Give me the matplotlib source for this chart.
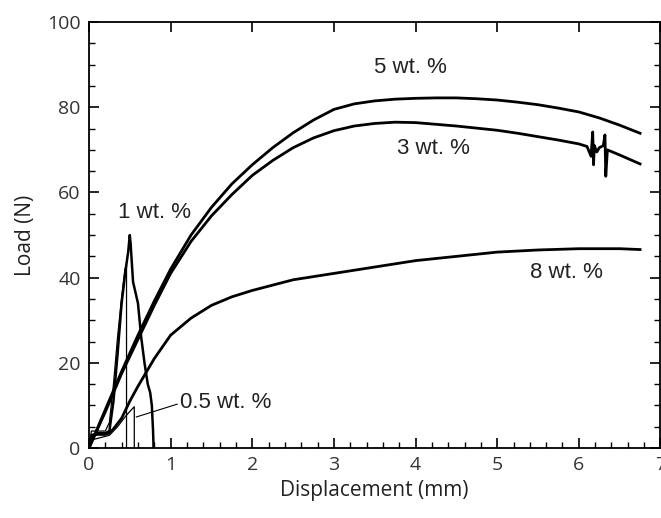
import matplotlib
matplotlib.use("Agg")
import matplotlib.pyplot as plt
from matplotlib.ticker import MultipleLocator

plt.rcParams['font.family'] = ['Open Sans', 'DejaVu Sans']

# 5 wt.%
x5 = [0, 0.2, 0.4, 0.6, 0.8, 1.0, 1.25, 1.5, 1.75, 2.0, 2.25, 2.5, 2.75, 3.0, 3.25, 3.5,
      3.75, 4.0, 4.25, 4.5, 4.75, 5.0, 5.25, 5.5, 5.75, 6.0, 6.25, 6.5, 6.75]
y5 = [0, 9, 18, 26.5, 34.5, 42, 50, 56.5, 62, 66.5, 70.5, 74, 77, 79.5, 80.8, 81.5,
      81.9, 82.1, 82.2, 82.2, 82.0, 81.7, 81.2, 80.6, 79.8, 78.9, 77.5, 75.8, 73.9]

# 3 wt.%
x3 = [0, 0.2, 0.4, 0.6, 0.8, 1.0, 1.25, 1.5, 1.75, 2.0, 2.25, 2.5, 2.75, 3.0, 3.25, 3.5,
      3.75, 4.0, 4.25, 4.5, 4.75, 5.0, 5.25, 5.5, 5.75, 6.0, 6.1, 6.15, 6.17, 6.18, 6.19,
      6.22, 6.25, 6.3, 6.32, 6.33, 6.35, 6.5, 6.75]
y3 = [0, 8.5, 17.5, 25.5, 33.5, 41, 48.5, 54.5, 59.5, 64, 67.5, 70.5, 72.8, 74.5, 75.6, 76.2,
      76.5, 76.4, 76.0, 75.6, 75.1, 74.6, 73.9, 73.1, 72.3, 71.4, 70.8, 68.5, 74.2, 66.5, 71,
      69.5, 70.5, 71, 73.5, 63.8, 70, 68.8, 66.7]

# 8 wt.%
x8 = [0, 0.05, 0.1, 0.2, 0.25, 0.3, 0.4, 0.5, 0.6, 0.8, 1.0, 1.25, 1.5, 1.75, 2.0, 2.5,
      3.0, 3.5, 4.0, 4.5, 5.0, 5.5, 6.0, 6.5, 6.75]
y8 = [0, 3, 3.2, 3.2, 3.5, 4.5, 7, 11, 14.5, 21, 26.5, 30.5, 33.5, 35.5, 37, 39.5,
      41, 42.5, 44, 45, 46, 46.5, 46.8, 46.8, 46.6]

# 1 wt.%
x1 = [0, 0.03, 0.1, 0.2, 0.25, 0.3, 0.35, 0.4, 0.45, 0.48, 0.5, 0.51, 0.54, 0.6, 0.64,
      0.68, 0.72, 0.75, 0.77, 0.785, 0.79, 0.79]
y1 = [0, 3, 3.5, 3.5, 4, 11, 22, 34, 42, 46, 50, 48, 39, 34, 26, 20, 15, 13, 10, 4, 1, 0]

# second thin 1 wt.% trace
x1b = [0, 0.03, 0.1, 0.2, 0.25, 0.3, 0.35, 0.4, 0.44, 0.46, 0.46]
y1b = [0, 4, 4, 4, 6, 15, 26, 35.5, 42, 43, 0]

# 0.5 wt.%
x05 = [0, 0.05, 0.15, 0.25, 0.35, 0.45, 0.52, 0.555, 0.555]
y05 = [0, 2, 2.5, 3, 5, 7.5, 9, 9.7, 0]

fig = plt.figure(figsize=(6.61, 5.18), dpi=100)
ax = fig.add_axes([0.1346, 0.135, 0.8646, 0.8224])

ax.plot(x5, y5, color='black', lw=2.0)
ax.plot(x3, y3, color='black', lw=2.0)
ax.plot(x8, y8, color='black', lw=2.0)
ax.plot(x1, y1, color='black', lw=1.8)
ax.plot(x1b, y1b, color='black', lw=0.9)
ax.plot(x05, y05, color='black', lw=0.9)

ax.set_xlim(0, 7)
ax.set_ylim(0, 100)
ax.xaxis.set_major_locator(MultipleLocator(1))
ax.xaxis.set_minor_locator(MultipleLocator(0.2))
ax.yaxis.set_major_locator(MultipleLocator(20))
ax.yaxis.set_minor_locator(MultipleLocator(5))
ax.tick_params(which='major', direction='in', length=7, width=1.2,
               top=True, right=True, labelsize=14, pad=6, colors='black',
               labelcolor='#333333')
ax.tick_params(which='minor', direction='in', length=4, width=1.0,
               top=False, right=True)
for s in ax.spines.values():
    s.set_linewidth(1.3)

ax.set_xlabel('Displacement (mm)', fontsize=15, labelpad=4, color='#222222')
ax.set_ylabel('Load (N)', fontsize=15, labelpad=8, color='#222222')

ann = dict(fontsize=16, family=['Liberation Sans', 'DejaVu Sans'], color='#222222')
ax.text(3.94, 89.4, '5 wt. %', ha='center', va='center', **ann)
ax.text(4.22, 70.4, '3 wt. %', ha='center', va='center', **ann)
ax.text(0.80, 55.4, '1 wt. %', ha='center', va='center', **ann)
ax.text(5.85, 41.3, '8 wt. %', ha='center', va='center', **ann)
ax.text(1.12, 10.8, '0.5 wt. %', ha='left', va='center', **ann)
ax.plot([0.58, 1.08], [7.3, 10.3], color='black', lw=0.8)

fig.savefig('out.png', dpi=100)
